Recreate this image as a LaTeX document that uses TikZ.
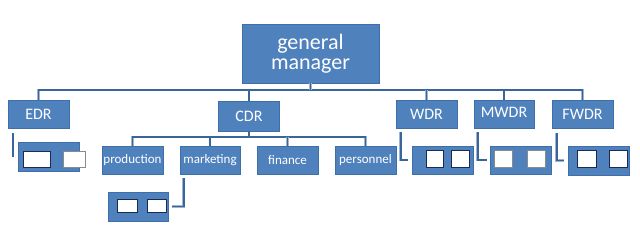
\documentclass[tikz,border=0pt]{standalone}
\usepackage{fontspec}
\setmainfont{Carlito}
\usepackage{xcolor}
\usetikzlibrary{positioning,calc}
\definecolor{boxblue}{HTML}{4F81BD}
\definecolor{boxedge}{HTML}{3F6FAA}
\definecolor{linedark}{HTML}{3A659B}
\definecolor{lineedge}{HTML}{9DB4D2}
\definecolor{cellnavy}{HTML}{1B2A55}
\definecolor{cellgray}{HTML}{8A8A8A}

\begin{document}
\begin{tikzpicture}[x=1pt,y=-1pt,
    unit/.style={rectangle,fill=boxblue,draw=boxedge,line width=0.6pt,
      text=white,inner sep=0pt,minimum width=61pt,minimum height=28pt},
    top/.style={unit,font=\fontsize{22}{20}\selectfont,align=center,
      minimum width=137pt,minimum height=59pt},
    dept/.style={unit,font=\fontsize{16}{18}\selectfont},
    sect/.style={unit,font=\fontsize{13}{15}\selectfont},
    cell/.style={rectangle,fill=white,draw=cellnavy,line width=0.7pt,
      inner sep=0pt,minimum width=18pt,minimum height=17pt},
    conn/.style={draw=lineedge,double=linedark,double distance=1.8pt,
      line width=0.5pt,line join=miter}]
      \useasboundingbox (0,0) rectangle (640,242);
      % boxes
      \node[top] (gm) at (310.5,53.5) {general\\manager};
      \node[dept] (edr) at (38.5,114) {EDR};
      \node[dept,minimum height=30pt] (cdr) at (249,116) {CDR};
      \node[dept] (wdr) at (426.5,114) {WDR};
      \node[dept,minimum width=60pt] (mwdr) at (504,114) {\raisebox{4pt}{MWDR}};
      \node[dept] (fwdr) at (582.5,114) {FWDR};
      \node[sect] (prod) at (132.5,160) {production};
      \node[sect,minimum width=60pt] (mkt) at (210,160) {marketing};
      \node[sect] (fin) at (287.5,160) {finance};
      \node[sect] (pers) at (365.5,160) {personnel};
      % sub units
      \node[unit,minimum height=29pt] (edrsub) at (48.5,156.5) {};
      \node[unit,minimum width=60pt,minimum height=29pt] (mktsub) at (138,206.5) {};
      \node[unit] (wdrsub) at (442.5,160) {};
      \node[unit] (mwdrsub) at (520.5,160) {};
      \node[unit,minimum height=29pt] (fwdrsub) at (598.5,160.5) {};
      \node[cell,minimum width=27pt,minimum height=16pt] (edrA) at (36.5,159) {};
      \node[cell,draw=cellgray,minimum width=22pt,minimum height=16pt] (edrB) at (74,159) {};
      \node[cell,minimum width=20pt,minimum height=13pt] (mktA) at (127,205.5) {};
      \node[cell,minimum width=19pt,minimum height=13pt] (mktB) at (156.5,205.5) {};
      \node[cell,minimum width=17pt] (wdrA) at (434.5,159) {};
      \node[cell] (wdrB) at (460,159) {};
      \node[cell,draw=cellgray] (mwdrA) at (503,159) {};
      \node[cell,draw=cellgray] (mwdrB) at (536,159) {};
      \node[cell,minimum width=19pt] (fwdrA) at (586.5,158.5) {};
      \node[cell] (fwdrB) at (618,158.5) {};
      % connectors
      \coordinate (bus) at (0,90);
      \coordinate (cbus) at (0,137);
      \draw[conn] (edr.north) |- (bus -| fwdr.north) -- (fwdr.north);
      \foreach \n in {gm.south,cdr.north,wdr.north,mwdr.north}
        \draw[conn] (\n) -- (\n |- bus);
      \draw[conn] (prod.north) |- (cbus -| pers.north) -- (pers.north);
      \foreach \n in {cdr.south,mkt.north,fin.north}
        \draw[conn] (\n) -- (\n |- cbus);
      \coordinate (edrtap) at ([xshift=-25.5pt,yshift=-5pt]edr.south);
      \draw[conn] (edrtap) -- (edrtap |- edrsub.center);
      \draw[conn] ([xshift=4pt,yshift=-4pt]mkt.south west) |- ([xshift=4pt]mktsub.east);
      \draw[conn] ([xshift=5pt,yshift=-4pt]wdr.south west) |- ([xshift=-4pt]wdrsub.west);
      \draw[conn] ([xshift=4pt,yshift=-4pt]mwdr.south west) |- ([xshift=-3pt]mwdrsub.west);
      \draw[conn] ([xshift=5pt,yshift=-5pt]fwdr.south west) |- ([xshift=-4pt]fwdrsub.west);
    \end{tikzpicture}
\end{document}
